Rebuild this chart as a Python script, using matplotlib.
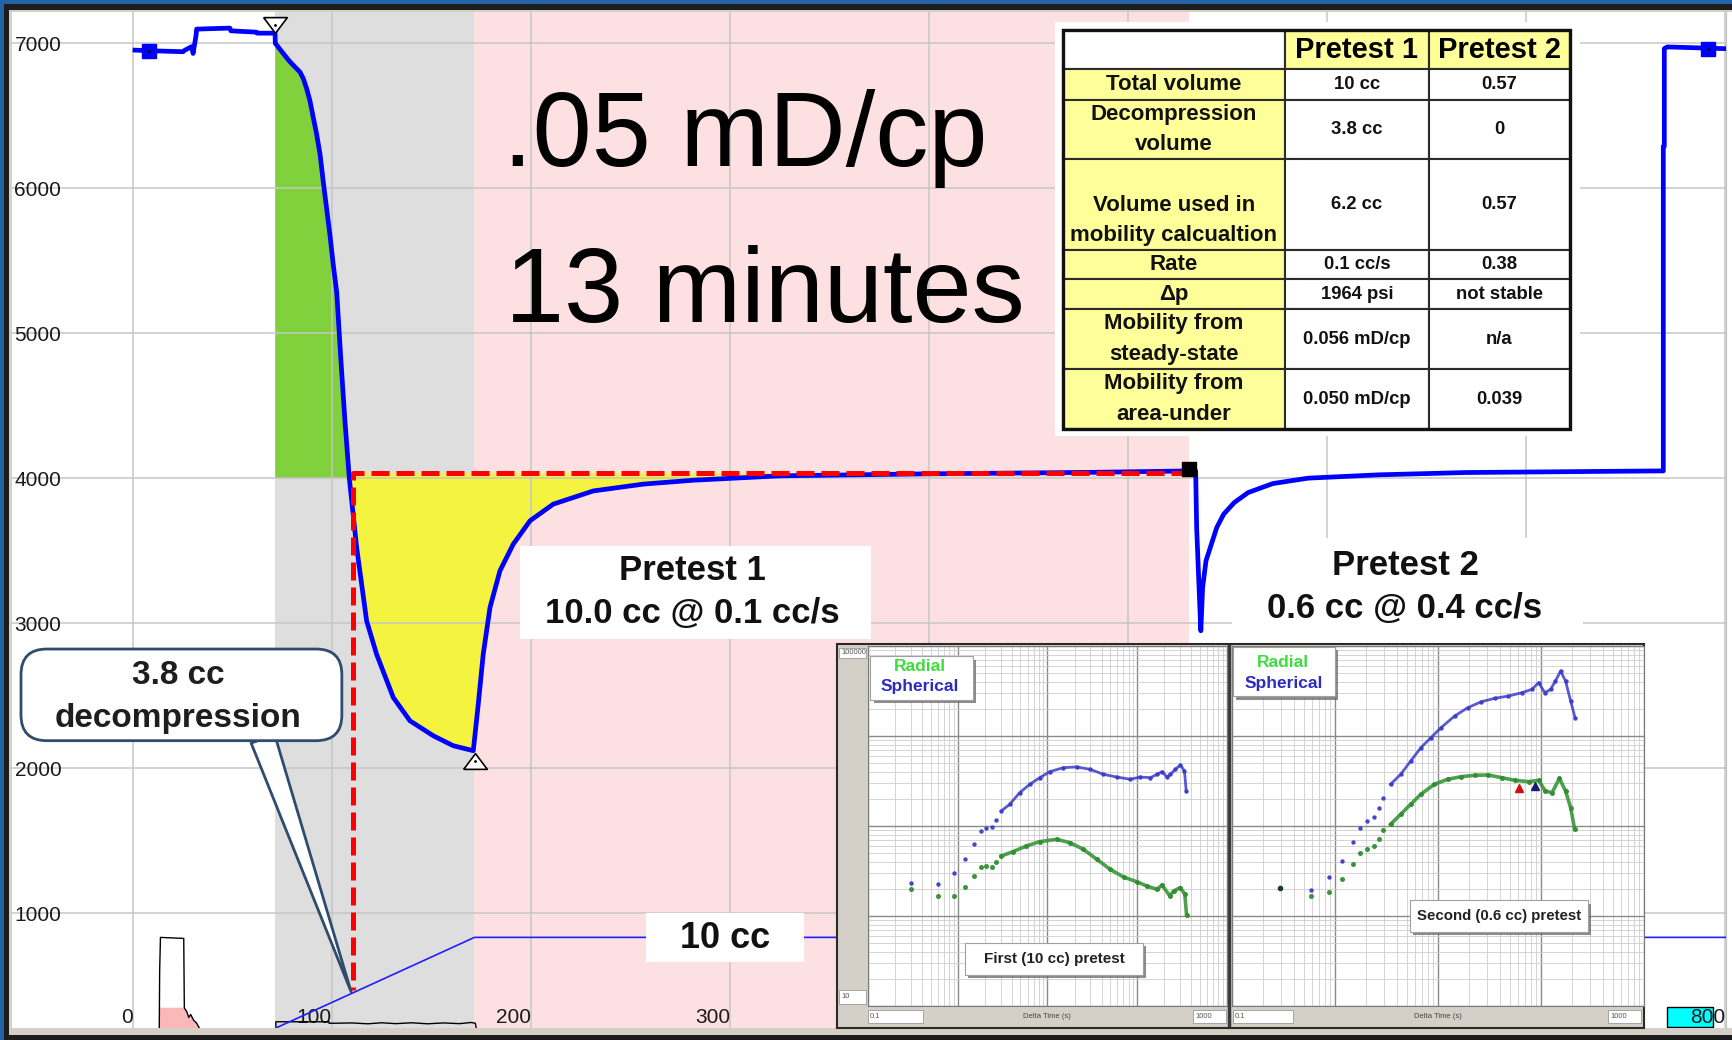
import matplotlib
matplotlib.use('Agg')
import matplotlib.pyplot as plt
import matplotlib.patheffects as pe
from matplotlib.patches import Rectangle, FancyBboxPatch

plt.rcParams['font.family'] = ['Liberation Sans', 'DejaVu Sans']

# ---- main pressure trace (time s, pressure psi) ----
time_s = [1, 8, 25.1, 26.1, 29.5, 30.2, 31.6, 32, 48.7, 49.2, 62, 62.5, 71.4, 71.5,
          72.2, 75.5, 78.9, 83.9, 85.6, 87.3, 88.9, 90.6, 92.3, 94.0, 95.6, 97.3, 99.0,
          100.7, 102.4, 104.4, 106.5, 108.7, 112.4, 117.4, 122.4, 130.8, 139.2, 150.9,
          161, 171, 173.5, 176, 179.4, 184.4, 191.1, 199.5, 211.2, 231.3, 256.4, 281.6,
          325, 400, 480, 530.5, 534.0, 534.5, 535.7, 536.6, 537.5, 539.2, 541.9, 544.6,
          548.1, 553.4, 560.4, 572.8, 590.4, 625.7, 669.8, 765.8, 769, 769, 769.5,
          769.5, 771, 800.5]
pressure_psi = [6953, 6949, 6942, 6953, 6977, 6930, 7047, 7098, 7105, 7086, 7077, 7070,
                7070, 7000, 6988, 6930, 6872, 6802, 6756, 6686, 6605, 6488, 6372, 6233,
                6047, 5860, 5674, 5465, 5279, 4830, 4395, 4000, 3521, 3016, 2786, 2487,
                2326, 2223, 2154, 2120, 2441, 2786, 3108, 3361, 3545, 3706, 3821, 3912,
                3959, 3986, 4016, 4030, 4040, 4050, 4050, 3659, 3246, 2947, 3246, 3430,
                3545, 3660, 3752, 3832, 3901, 3963, 4000, 4023, 4039, 4050, 4050, 6290,
                6290, 6963, 6975, 6963]

# pumped volume (cc)
vol_time = [71.8, 171.6, 800.5]
vol_cc = [0, 10, 10]

# small traces at the bottom of the track
motor_time = [13.2, 13.4, 13.8, 25.5, 25.8, 27, 28, 29, 30.5, 32, 33.3]
motor_val = [207, 600, 832, 825, 345, 320, 280, 300, 260, 240, 207]
pump_time = [71.8, 71.8, 98.5, 98.5, 102, 110, 118, 125, 132, 140, 148, 156, 164, 170, 172, 172.5]
pump_val = [207, 250, 250, 240, 240, 242, 236, 243, 237, 243, 236, 242, 237, 245, 240, 207]

pretest_start = (71.4, 7126)
pretest_min = (171.9, 2050)
pretest1_end = (530.5, 4060)
probe_set_t = [8, 791.5]
probe_set_p = [6949, 6963]
p_ref = 4000
p_stable = 4034
t_decomp = 110.7
p_decomp_low = 469

# ---- derivative insets (delta time s, derivative) ----
sph1_t = [0.30, 0.61, 0.91, 1.20, 1.50, 1.82, 2.07, 2.40, 2.69, 3.05, 3.78, 4.90, 6.34, 8.20,
          10.6, 15.0, 21.1, 29.8, 42.0, 59.2, 83.6, 108, 140, 166, 189, 215, 234, 266, 303, 336, 351]
sph1_d = [234, 229, 298, 427, 637, 879, 955, 984, 1156, 1469, 1738, 2344, 2904, 3443,
          4018, 4446, 4529, 4266, 3750, 3500, 3304, 3500, 3443, 3750, 4018, 3500, 3750, 4266, 4764, 4083, 2449]
rad1_t = [0.30, 0.61, 0.91, 1.20, 1.50, 1.82, 2.07, 2.40, 2.69, 3.05, 4.13, 5.82, 8.20, 12.6,
          17.8, 25.1, 35.4, 49.9, 70.3, 99.1, 128, 166, 189, 230, 255, 303, 339, 354]
rad1_d = [201, 167, 168, 210, 278, 350, 362, 353, 402, 464, 519, 600, 670, 711,
          653, 551, 427, 330, 271, 240, 215, 198, 221, 167, 190, 207, 174, 103]
sph2_t = [0.59, 0.88, 1.17, 1.48, 1.76, 2.04, 2.38, 2.66, 2.93, 3.46, 4.34, 5.43, 6.81, 8.53,
          10.7, 14.5, 19.5, 26.4, 35.6, 48.2, 65.2, 81.7, 94.8, 109, 124, 138, 155, 173, 194, 214]
sph2_d = [193, 271, 408, 670, 957, 1138, 1259, 1600, 2065, 2904, 3750, 5272, 7413, 9572,
          12388, 16672, 20654, 24044, 26242, 27797, 30269, 33037, 39174, 30269, 33037, 40832,
          52723, 40832, 24490, 15996]
rad2_t = [0.29, 0.59, 0.88, 1.17, 1.48, 1.76, 2.04, 2.38, 2.66, 2.93, 3.46, 4.34, 5.43, 6.81,
          9.20, 12.4, 16.8, 22.7, 30.7, 41.5, 56.0, 75.7, 94.8, 110, 128, 151, 173, 194, 212]
rad2_d = [207, 167, 186, 255, 381, 506, 551, 600, 711, 896, 1045, 1349, 1742, 2249,
          2904, 3304, 3532, 3656, 3690, 3443, 3214, 3112, 3214, 2449, 2344, 3388, 2449, 1600, 918]
flag_t = [61.8, 86.7]
flag_d = [2624, 2780]

# ---- summary table ----
row_labels = ["Total volume", "Decompression\nvolume", "Volume used in\nmobility calcualtion",
              "Rate", "Δp", "Mobility from\nsteady-state", "Mobility from\narea-under"]
col_headers = ["Pretest 1", "Pretest 2"]
pretest1_vals = ["10 cc", "3.8 cc", "6.2 cc", "0.1 cc/s", "1964 psi", "0.056 mD/cp", "0.050 mD/cp"]
pretest2_vals = ["0.57", "0", "0.57", "0.38", "not stable", "n/a", "0.039"]

W, H = 1733, 1040
fig = plt.figure(figsize=(W / 100, H / 100), dpi=100, facecolor='#2462a8')


def px_axes(x0, y0, x1, y1):
    return fig.add_axes([x0 / W, 1 - y1 / H, (x1 - x0) / W, (y1 - y0) / H])


def px_rect(x0, y0, x1, y1, color):
    fig.patches.append(Rectangle((x0 / W, 1 - y1 / H), (x1 - x0) / W, (y1 - y0) / H,
                                 transform=fig.transFigure, fc=color, ec='none', zorder=-1))


# window frame
px_rect(4, 4, W, H, '#1d1d1d')
px_rect(9, 10, W, 1035, '#d4d0c8')
px_rect(1726, 12, W, 1028, 'white')

# ---- main track ----
ax = px_axes(12, 12, 1726, 1028)
ax.set_facecolor('white')
ax.set_xlim(-60.8, 800.5)
ax.set_ylim(207, 7216)
for s in ['top', 'left', 'bottom']:
    ax.spines[s].set_visible(False)
ax.spines['right'].set_color('#c0c0c0')
ax.set_xticks(range(0, 801, 100))
ax.set_yticks(range(1000, 7001, 1000))
ax.grid(True, color='#c6c6c6', lw=1.1)
ax.set_axisbelow('line')
ax.tick_params(axis='both', length=0, labelsize=15, labelcolor='#1a1a1a')
ax.tick_params(axis='y', pad=-35.5)
ax.tick_params(axis='x', pad=-14.5)
for lbl in ax.get_xticklabels():
    lbl.set_horizontalalignment('right')

ax.axvspan(71.4, 171.5, fc='#dedede', lw=0, zorder=0.2)
ax.axvspan(171.5, 530.6, fc='#fde0e1', lw=0, zorder=0.2)

t_arr = time_s
p_arr = pressure_psi
ax.fill_between(t_arr, p_arr, p_ref,
                where=[(t >= 71.5) and (t <= 109) and (p >= p_ref) for t, p in zip(t_arr, p_arr)],
                interpolate=True, fc='#80d13c', lw=0, zorder=0.5)
ax.fill_between(t_arr, p_arr, p_stable,
                where=[(t >= 106) and (t <= 531) and (p <= p_stable) for t, p in zip(t_arr, p_arr)],
                interpolate=True, fc='#f3f340', lw=0, zorder=0.5)

ax.fill_between(motor_time, 207, [min(v, 347) for v in motor_val], fc='#fbb8b8', lw=0, zorder=0.6)
ax.plot(motor_time, motor_val, color='black', lw=1, zorder=2)
ax.plot(pump_time, pump_val, color='black', lw=1, zorder=2)

ax.plot(time_s, pressure_psi, color='#0000ff', lw=3.4, zorder=3, solid_joinstyle='round')
ax.plot([pretest1_end[0], t_decomp, t_decomp], [p_stable, p_stable, p_decomp_low],
        color='#ff0000', lw=3.6, ls=(0, (3.6, 1.4)), zorder=4)

ax.plot(probe_set_t, probe_set_p, 's', color='#0000ff', ms=10.5, zorder=4)
ax.plot(probe_set_t, probe_set_p, '.', color='black', ms=2, zorder=5)
tri_dn = [(-1.5, 1), (1.5, 1), (0, -1), (-1.5, 1)]
tri_up = [(-1.5, -1), (1.5, -1), (0, 1), (-1.5, -1)]
ax.plot(*pretest_start, marker=tri_dn, ms=17, mfc='white', mec='black', mew=1.2, zorder=5)
ax.plot(*pretest_min, marker=tri_up, ms=17, mfc='white', mec='black', mew=1.2, zorder=5)
ax.plot(*pretest_start, '.', color='black', ms=2, zorder=6)
ax.plot(*pretest_min, '.', color='black', ms=2, zorder=6)
ax.plot(*pretest1_end, 's', color='black', ms=10, zorder=5)

ax.add_patch(Rectangle((770.7, 216), 23.4, 138, fc='#00ffff', ec='black', lw=1, zorder=1.2))

# big annotations
ax.text(186, 6154, '.05 mD/cp', fontsize=76.5, va='baseline', ha='left', color='black', zorder=6)
ax.text(187, 5080, '13 minutes', fontsize=76.5, va='baseline', ha='left', color='black', zorder=6)

ax.add_patch(Rectangle((194.5, 2890), 176.4, 643, fc='white', ec='none', zorder=5))
ax.text(281.2, 3215, 'Pretest 1\n10.0 cc @ 0.1 cc/s', fontsize=25, fontweight='bold',
        ha='center', va='center', linespacing=1.38, color='#111111', zorder=6)
ax.add_patch(Rectangle((552.3, 2856), 176.3, 732, fc='white', ec='none', zorder=5))
ax.text(639.2, 3250, 'Pretest 2\n0.6 cc @ 0.4 cc/s', fontsize=25, fontweight='bold',
        ha='center', va='center', linespacing=1.40, color='#111111', zorder=6)

# decompression callout
ax.annotate('', xy=(109.6, 457), xycoords='data', xytext=(0.1464, 0.2845),
            textcoords='axes fraction',
            arrowprops=dict(arrowstyle='wedge,tail_width=0.9,shrink_factor=0.5',
                            mutation_scale=20, fc='white', ec='#2f4b6e', lw=2,
                            shrinkA=0, shrinkB=0), zorder=6)
ax.add_patch(FancyBboxPatch((0.00525, 0.2828), 0.1872, 0.0902,
                            boxstyle='round,pad=0,rounding_size=0.015',
                            mutation_aspect=1714 / 1016, transform=ax.transAxes,
                            fc='white', ec='#2f4b6e', lw=2, zorder=7))
ax.text(0.0970, 0.3258, '3.8 cc\ndecompression', transform=ax.transAxes, fontsize=24,
        fontweight='bold', ha='center', va='center', linespacing=1.5, color='#1e1e1e', zorder=8)

# volume on its own scale
ax2 = ax.twinx()
ax2.plot(vol_time, vol_cc, color='#1f1fff', lw=1.2)
ax2.add_patch(Rectangle((257.8, 662), 79.4, 338, transform=ax.transData,
                        fc='white', ec='none', zorder=5))
ax2.text(297.5, 757, '10 cc', transform=ax.transData, fontsize=26, fontweight='bold',
         ha='center', va='baseline', color='#111111', zorder=6)
ax2.set_xlim(-60.8, 800.5)
ax2.set_ylim(0, 112.1)
ax2.set_axis_off()

# ---- summary table ----
axt = px_axes(1055, 22, 1580, 436)
axt.set_xlim(1055, 1580)
axt.set_ylim(436, 22)
axt.set_facecolor('white')
axt.set_xticks([])
axt.set_yticks([])
for s in axt.spines.values():
    s.set_visible(False)
col_edges = [1063, 1285, 1429, 1570]
row_edges = [30, 69.3, 100, 159.3, 250, 279.3, 309.3, 369.3, 429.3]
yellow = '#ffff99'
for r in range(len(row_edges) - 1):
    for c in range(3):
        if r == 0:
            fc = 'white' if c == 0 else yellow
        else:
            fc = yellow if c == 0 else 'white'
        axt.add_patch(Rectangle((col_edges[c], row_edges[r]), col_edges[c + 1] - col_edges[c],
                                row_edges[r + 1] - row_edges[r], fc=fc, ec='#2b2b2b', lw=1.5))
axt.add_patch(Rectangle((col_edges[0], row_edges[0]), col_edges[-1] - col_edges[0],
                        row_edges[-1] - row_edges[0], fc='none', ec='#111111', lw=2.4))
col_mid = [(col_edges[i] + col_edges[i + 1]) / 2 for i in range(3)]
for c, h in enumerate(col_headers):
    axt.text(col_mid[c + 1], 50.5, h, fontsize=21, fontweight='bold', ha='center', va='center')
for r, (lab, v1, v2) in enumerate(zip(row_labels, pretest1_vals, pretest2_vals)):
    ymid = (row_edges[r + 1] + row_edges[r + 2]) / 2
    ylab = ymid + 16 if r == 2 else ymid
    axt.text(col_mid[0], ylab, lab, fontsize=16, fontweight='bold', ha='center', va='center',
             linespacing=1.6, color='#111111')
    axt.text(col_mid[1], ymid, v1, fontsize=13.3, fontweight='bold', ha='center', va='center',
             color='#111111')
    axt.text(col_mid[2], ymid, v2, fontsize=13.3, fontweight='bold', ha='center', va='center',
             color='#111111')

# ---- derivative plot insets ----
axf = px_axes(836.6, 644, 1644.5, 1028)
axf.set_xlim(836.6, 1644.5)
axf.set_ylim(1028, 644)
axf.set_facecolor('#d4d0c8')
axf.set_xticks([])
axf.set_yticks([])
for s in axf.spines.values():
    s.set_color('#2a2a2a')
    s.set_linewidth(1.5)
axf.axvline(1229.5, color='#3a3a3a', lw=2.5)
small_boxes = [(839, 648, 866, 658, '100000'), (839, 990, 866, 1004, '10'),
               (868, 1010, 923, 1023, '0.1'), (1193, 1010, 1226, 1023, '1000'),
               (1233, 1010, 1293, 1023, '0.1'), (1608, 1010, 1641, 1023, '1000')]
for x0, y0, x1, y1, s in small_boxes:
    axf.add_patch(Rectangle((x0, y0), x1 - x0, y1 - y0, fc='white', ec='#9a9a9a', lw=0.6))
    axf.text(x0 + 2, (y0 + y1) / 2, s, fontsize=5.5, ha='left', va='center', color='#555555')
axf.text(1047, 1016.5, 'Delta Time (s)', fontsize=5.5, ha='center', va='center', color='#444444')
axf.text(1438, 1016.5, 'Delta Time (s)', fontsize=5.5, ha='center', va='center', color='#444444')

sph_color = '#3c3cc8'
rad_color = '#2f8f2f'


def deriv_panel(axi, st, sd, rt, rd, k_s, k_r):
    axi.set_xscale('log')
    axi.set_yscale('log')
    axi.set_xlim(0.1, 1000)
    axi.set_ylim(10, 1e5)
    axi.set_facecolor('white')
    axi.grid(True, which='major', color='#8a8a8a', lw=1.0)
    axi.grid(True, which='minor', color='#cdcdcd', lw=0.6)
    axi.tick_params(which='both', length=0, labelbottom=False, labelleft=False)
    for s in axi.spines.values():
        s.set_color('#7a7a7a')
    axi.plot(st, sd, 'o', color=sph_color, ms=2.2, alpha=0.9)
    axi.plot(st[k_s:], sd[k_s:], '-', color=sph_color, lw=2, alpha=0.85)
    axi.plot(rt, rd, 'o', color=rad_color, ms=2.6, alpha=0.9)
    axi.plot(rt[k_r:], rd[k_r:], '-', color=rad_color, lw=2.6, alpha=0.85)


def shadow_box(axi, x0, y0, x1, y1):
    r = Rectangle((x0, y0), x1 - x0, y1 - y0, transform=axi.transAxes, fc='white',
                  ec='#a0a0a0', lw=0.8, zorder=6)
    r.set_path_effects([pe.withSimplePatchShadow(offset=(2.5, -2.5), shadow_rgbFace='#6e6e6e',
                                                 alpha=0.8)])
    axi.add_patch(r)


ax_i1 = px_axes(868, 646, 1227, 1006)
deriv_panel(ax_i1, sph1_t, sph1_d, rad1_t, rad1_d, 9, 9)
shadow_box(ax_i1, 0.006, 0.851, 0.292, 0.972)
ax_i1.text(0.145, 0.943, 'Radial', transform=ax_i1.transAxes, color='#3ddc3d', fontsize=12.5,
           fontweight='bold', ha='center', va='center', zorder=7)
ax_i1.text(0.145, 0.888, 'Spherical', transform=ax_i1.transAxes, color='#2b2bc0', fontsize=12.5,
           fontweight='bold', ha='center', va='center', zorder=7)
shadow_box(ax_i1, 0.270, 0.0865, 0.765, 0.176)
ax_i1.text(0.518, 0.131, 'First (10 cc) pretest', transform=ax_i1.transAxes, fontsize=11,
           fontweight='bold', ha='center', va='center', color='#222222', zorder=7)

ax_i2 = px_axes(1232, 646, 1644, 1006)
deriv_panel(ax_i2, sph2_t, sph2_d, rad2_t[1:], rad2_d[1:], 9, 9)
ax_i2.plot(rad2_t[0], rad2_d[0], 'o', color='#1e3a1e', ms=3)
ax_i2.plot(flag_t[0], flag_d[0], '^', color='#cc1111', ms=6, zorder=5)
ax_i2.plot(flag_t[1], flag_d[1], '^', color='#1a1a6e', ms=6, zorder=5)
shadow_box(ax_i2, 0.002, 0.86, 0.25, 0.998)
ax_i2.text(0.1245, 0.955, 'Radial', transform=ax_i2.transAxes, color='#3ddc3d', fontsize=12.5,
           fontweight='bold', ha='center', va='center', zorder=7)
ax_i2.text(0.1245, 0.897, 'Spherical', transform=ax_i2.transAxes, color='#2b2bc0', fontsize=12.5,
           fontweight='bold', ha='center', va='center', zorder=7)
shadow_box(ax_i2, 0.432, 0.206, 0.864, 0.294)
ax_i2.text(0.648, 0.25, 'Second (0.6 cc) pretest', transform=ax_i2.transAxes, fontsize=10.8,
           fontweight='bold', ha='center', va='center', color='#222222', zorder=7)

fig.savefig('out.png', dpi=100, facecolor=fig.get_facecolor())
